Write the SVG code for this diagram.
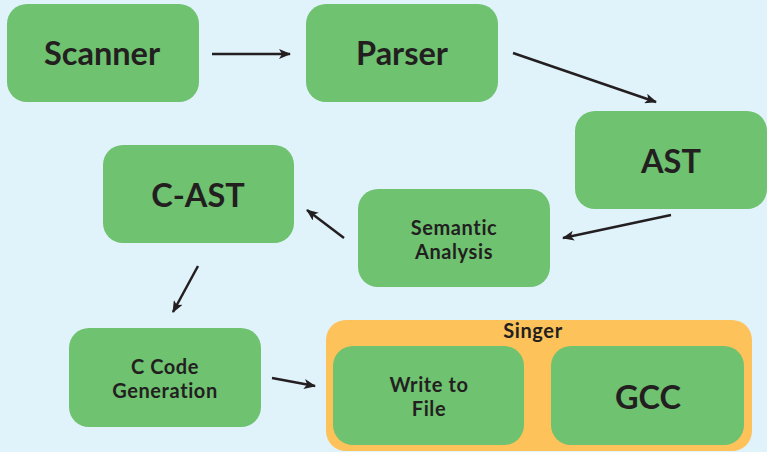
<svg xmlns="http://www.w3.org/2000/svg" width="767" height="452" viewBox="0 0 767 452">
<defs>
<style>
.box{fill:#6ec270;}
.grp{fill:#fdc25a;}
.t{font-family:Lato,"Open Sans","Liberation Sans",sans-serif;font-weight:bold;fill:#231f20;text-anchor:middle;}
.big{font-size:32.5px;}
.sm{font-size:20px;letter-spacing:0.6px;}
.edge{stroke:#231f20;stroke-width:2.5;fill:none;marker-end:url(#ah);}
</style>
<marker id="ah" viewBox="0 0 12 10" refX="11" refY="5" markerWidth="12" markerHeight="10" markerUnits="userSpaceOnUse" orient="auto">
<path d="M0,0 L12,5 L0,10 L3,5 Z" fill="#231f20"/>
</marker>
</defs>
<rect width="767" height="452" fill="#e0f2fa"/>
<g id="scanner"><rect class="box" x="7" y="4" width="192" height="98" rx="20"/><text class="t big" x="102" y="65">Scanner</text></g>
<g id="parser"><rect class="box" x="306" y="4" width="192" height="98" rx="20"/><text class="t big" x="402" y="65">Parser</text></g>
<g id="ast"><rect class="box" x="575" y="111" width="192" height="98" rx="20"/><text class="t big" x="671" y="173">AST</text></g>
<g id="cast"><rect class="box" x="103" y="145" width="191" height="98" rx="20"/><text class="t big" x="198" y="207">C-AST</text></g>
<g id="semantic"><rect class="box" x="358" y="189" width="192" height="98" rx="20"/><text class="t sm" x="454" y="235">Semantic</text><text class="t sm" x="454" y="259">Analysis</text></g>
<g id="cgen"><rect class="box" x="69" y="328" width="192" height="99" rx="20"/><text class="t sm" x="165" y="374">C Code</text><text class="t sm" x="165" y="398">Generation</text></g>
<g id="singer"><rect class="grp" x="326" y="320" width="426" height="131" rx="20"/><text class="t sm" x="533" y="338">Singer</text>
<g id="write"><rect class="box" x="333" y="346" width="191" height="99" rx="20"/><text class="t sm" x="429" y="392">Write to</text><text class="t sm" x="429" y="416">File</text></g>
<g id="gcc"><rect class="box" x="551" y="346" width="193" height="99" rx="20"/><text class="t big" x="648" y="409">GCC</text></g>
</g>
<g id="connectors">
<line class="edge" x1="212" y1="54" x2="290" y2="54"/>
<line class="edge" x1="513" y1="53" x2="656" y2="102"/>
<line class="edge" x1="671" y1="215" x2="563" y2="238"/>
<line class="edge" x1="344" y1="238" x2="307" y2="210"/>
<line class="edge" x1="198" y1="266" x2="173" y2="312"/>
<line class="edge" x1="272" y1="378" x2="315" y2="386"/>
</g>
</svg>
